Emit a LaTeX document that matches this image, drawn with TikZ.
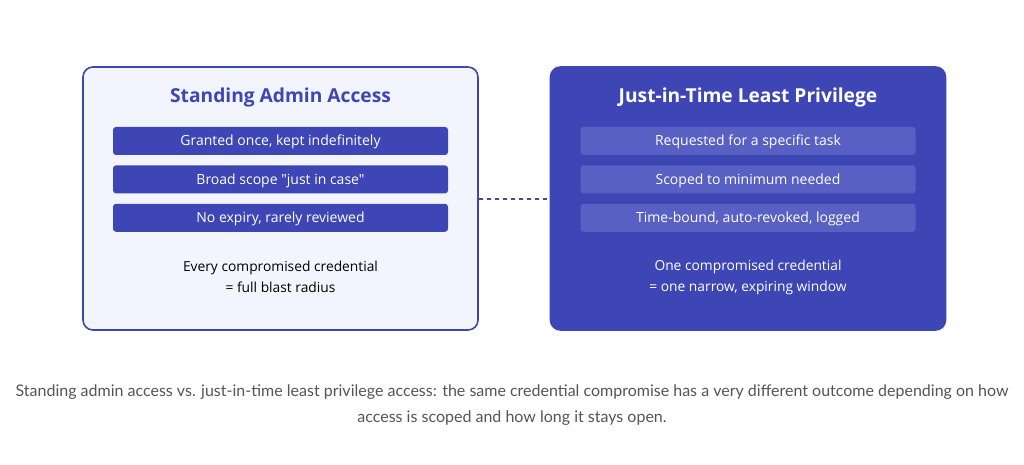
\documentclass[tikz,border=0pt]{standalone}
\usepackage{fontspec}
\setmainfont{Open Sans}[Ligatures=TeXOff]
\newfontfamily\captionfont{Lato}
\usetikzlibrary{positioning}

\definecolor{indigo}{RGB}{61,70,180}
\definecolor{paleblue}{RGB}{242,245,253}
\definecolor{softbar}{RGB}{88,96,196}
\definecolor{captiongray}{RGB}{85,85,85}

\begin{document}
\begin{tikzpicture}[x=1pt, y=-1pt, node distance=10pt]
    % Define styles
    \tikzstyle{panel}=[rectangle, rounded corners=10pt, line width=1.6pt, minimum width=395pt, minimum height=263pt, inner sep=0pt]
    \tikzstyle{heading}=[font=\fontsize{19.2}{23}\selectfont\bfseries]
    \tikzstyle{hardbar}=[rectangle, rounded corners=3pt, fill=indigo, text=white, minimum width=335pt, minimum height=28pt, inner sep=0pt, text height=11.5pt, text depth=2pt, font=\fontsize{14}{16}\selectfont]
    \tikzstyle{softbox}=[hardbar, fill=softbar]
    \tikzstyle{outcome}=[align=center, font=\fontsize{13.8}{21}\selectfont]
    \tikzstyle{link}=[indigo, line width=2pt, dash pattern=on 4pt off 4pt]

    \useasboundingbox[fill=white] (0,0) rectangle (1024,465);

    % Standing access panel
    \node[panel, draw=indigo, fill=paleblue] (standing) at (280.5,198.5) {};
    \node[heading, text=indigo] (standingtitle) at (280.5,98) {Standing Admin Access};
    \node[hardbar] (granted) at (280.5,141) {Granted once, kept indefinitely};
    \node[hardbar] (broad) [below=of granted] {Broad scope "just in case"};
    \node[hardbar] (noexpiry) [below=of broad] {No expiry, rarely reviewed};
    \node[outcome] (blast) at (280.5,277) {Every compromised credential\\= full blast radius};

    % Just-in-time panel
    \node[panel, draw=indigo, fill=indigo] (jit) at (748,198.5) {};
    \node[heading, text=white] (jittitle) at (748,98) {Just-in-Time Least Privilege};
    \node[softbox] (requested) at (748,141) {Requested for a specific task};
    \node[softbox] (scoped) [below=of requested] {Scoped to minimum needed};
    \node[softbox] (timebound) [below=of scoped] {Time-bound, auto-revoked, logged};
    \node[outcome, text=white] (window) at (748,277) {One compromised credential\\= one narrow, expiring window};

    % Link between panels
    \draw[link] (standing.east) -- (jit.west);

    % Caption
    \node[align=center, text=captiongray, font=\captionfont\fontsize{16}{26}\selectfont] (caption) at (512,405) {Standing admin access vs. just-in-time least privilege access: the same credential compromise has a very different outcome depending on how\\access is scoped and how long it stays open.};
\end{tikzpicture}
\end{document}
